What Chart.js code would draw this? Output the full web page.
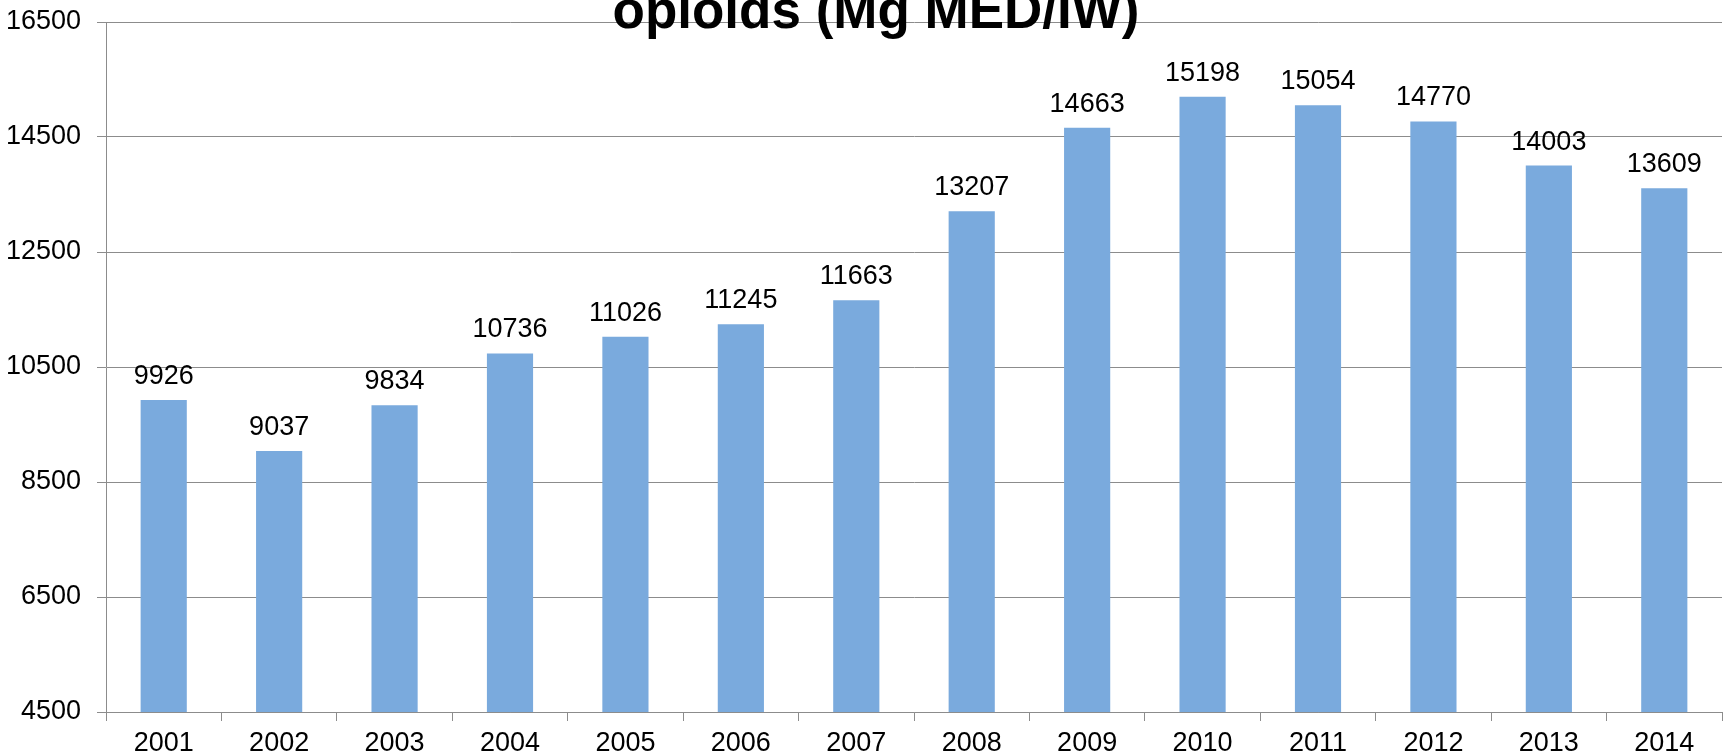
<!DOCTYPE html>
<html lang="en">
<head>
    <meta charset="UTF-8">
    <title>opioids (Mg MED/IW)</title>
    <script src="https://cdn.jsdelivr.net/npm/chart.js"></script>
    <style>
        html, body {
            margin: 0;
            padding: 0;
            background: #fff;
            overflow: hidden;
        }
        .wrap {
            position: relative;
            width: 1725px;
            height: 754px;
        }
        .title {
            position: absolute;
            left: 0;
            top: -17px;
            width: 1752px;
            text-align: center;
            font-family: 'Liberation Sans', Arial, sans-serif;
            font-weight: bold;
            font-size: 53px;
            line-height: 53px;
            color: #000;
            white-space: nowrap;
            z-index: 2;
        }
        canvas {
            position: absolute;
            left: 0;
            top: 0;
        }
    </style>
</head>
<body>
    <div class="wrap">
        <div class="title">opioids (Mg MED/IW)</div>
        <canvas id="barChart" width="1725" height="754"></canvas>
    </div>

    <script>
        const years = ['2001', '2002', '2003', '2004', '2005', '2006', '2007',
                       '2008', '2009', '2010', '2011', '2012', '2013', '2014'];
        const doses = [9926, 9037, 9834, 10736, 11026, 11245, 11663,
                       13207, 14663, 15198, 15054, 14770, 14003, 13609];
        const yMin = 4500;
        const yMax = 16500;
        const yStep = 2000;

        const fontFamily = "'Liberation Sans', Arial, sans-serif";
        const axisGray = '#8c8c8c';

        // value labels above each bar
        const valueLabels = {
            id: 'valueLabels',
            afterDatasetsDraw(chart) {
                const ctx = chart.ctx;
                const meta = chart.getDatasetMeta(0);
                ctx.save();
                ctx.font = '27px ' + fontFamily;
                ctx.fillStyle = '#000';
                ctx.textAlign = 'center';
                ctx.textBaseline = 'alphabetic';
                meta.data.forEach((bar, i) => {
                    ctx.fillText(String(doses[i]), bar.x, bar.y - 16);
                });
                ctx.restore();
            }
        };

        new Chart(document.getElementById('barChart').getContext('2d'), {
            type: 'bar',
            data: {
                labels: years,
                datasets: [{
                    data: doses,
                    backgroundColor: '#7aaadd',
                    borderWidth: 0,
                    barPercentage: 0.4,
                    categoryPercentage: 1.0
                }]
            },
            options: {
                responsive: false,
                animation: false,
                layout: { padding: { top: 22, right: 3, left: 0, bottom: 0 } },
                plugins: {
                    legend: { display: false },
                    title: { display: false },
                    tooltip: { enabled: false }
                },
                scales: {
                    x: {
                        grid: {
                            drawOnChartArea: false,
                            drawTicks: true,
                            tickLength: 9,
                            color: axisGray,
                            offset: true
                        },
                        border: { color: axisGray, width: 1 },
                        ticks: {
                            color: '#000',
                            font: { family: fontFamily, size: 27 },
                            padding: 6,
                            maxRotation: 0
                        },
                        afterFit(scale) { scale.height = 42; }
                    },
                    y: {
                        min: yMin,
                        max: yMax,
                        grid: {
                            color: axisGray,
                            tickLength: 9
                        },
                        border: { color: axisGray, width: 1 },
                        ticks: {
                            stepSize: yStep,
                            color: '#000',
                            font: { family: fontFamily, size: 27 },
                            padding: 16,
                            callback: (v) => String(v)
                        },
                        afterFit(scale) {
                            scale.width = 106;
                            scale.paddingTop = 0;
                            scale.paddingBottom = 0;
                        }
                    }
                }
            },
            plugins: [valueLabels]
        });
    </script>
</body>
</html>
